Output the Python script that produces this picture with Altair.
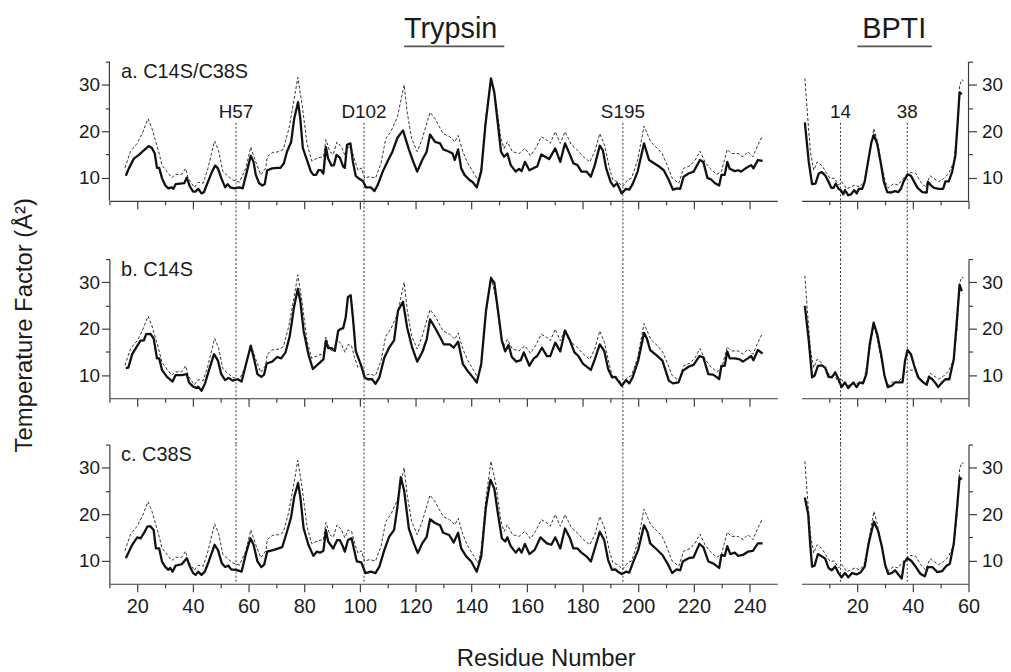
import altair as alt
import pandas as pd

# ---------------- data ----------------
# Trypsin, wild-type reference (dashed, identical in all three panels)
tryp_wt_res = [15.6, 17.6, 20, 21.8, 23.9, 25.3, 26.5, 27.7, 28.9, 30.7, 32.4, 33.8, 36, 37.4, 38.3, 40.5, 41.9, 43.7,
               45.4, 47.8, 49.2, 50.8, 52.5, 54.3, 56.7, 59, 60.8, 62.6, 64.4, 66.2, 66.7, 68.5, 70.9, 72.5, 74.5, 76.3,
               77.7, 79.2, 81, 82.7, 85.1, 86.9, 87.8, 89.2, 90.4, 91.8, 93.4, 94.6, 95.8, 97, 98.1, 99.3, 100.5, 101.7,
               103.5, 105.6, 107.6, 109.3, 111.1, 113.5, 115.9, 117, 118.6, 120.6, 122.4, 125.2, 127, 129.9, 132.3,
               134.1, 135.3, 137, 138.8, 140.6, 142.4, 143.6, 145.3, 147.1, 148.9, 150.7, 151.8, 153, 154.8, 157.2,
               159.3, 161.3, 163.1, 165.2, 167.2, 168.4, 170.2, 172, 173.7, 176.1, 177.9, 180.3, 182.6, 184.4, 186.2,
               187.9, 189.7, 190.9, 192.7, 194.4, 196.2, 197.6, 199.8, 202.1, 204.5, 206.9, 208.6, 210.4, 212.2, 214.6,
               216.3, 218.7, 220.5, 222.2, 224, 225.8, 228.2, 229.9, 232, 233.5, 235.9, 237.7, 239.4, 241.2, 243, 244.7]
tryp_wt_b = [12.1, 15.7, 17.4, 19.5, 22.7, 20.6, 18.1, 15.6, 12.7, 11.3, 10, 10.7, 10.7, 12, 9.9, 7.9, 9, 8.8,
             12, 17.9, 15.9, 11.3, 10.4, 9.5, 9, 12, 16.6, 13.4, 10.6, 12.1, 14.5, 15.4, 15.6, 16.1, 20.6, 26.6,
             31.6, 25.9, 17.4, 13.6, 14.3, 14.5, 18.2, 15.6, 15, 17.7, 16.6, 14.9, 16.6, 16.3, 13.8, 11.6, 12.1, 9.9,
             10.2, 9.9, 13.1, 18.4, 19.9, 23.1, 30, 24.1, 18.4, 15.6, 18.4, 24.1, 22.7, 19.5, 18.8,
             17.7, 19.1, 15.6, 13.1, 11.3, 9.5, 12, 23.4, 31.4, 26.3, 18.4, 16.3, 17.7, 15.6, 15.2,
             16.3, 14.7, 16.3, 18.8, 18.1, 17.4, 19.9, 17.4, 19.9, 17, 16.1, 14.5, 13.4, 15.6, 19.5,
             17, 12, 9.5, 9.1, 8.1, 9.5, 9.9, 13.8, 21.1, 17.7, 16.3, 15.2, 12.7, 9.9, 8.8,
             12, 12.6, 13.8, 15.7, 13.4, 12, 10.7, 11.3, 16.1, 15.2, 15.2, 14.5, 15.6, 14.5, 17, 19.1]

# a. C14S/C38S
tryp_a_res = [15.9, 17, 18.8, 20.6, 22.4, 24.1, 25.3, 26.3, 27.1, 27.9, 28.9, 30, 31.2, 32.4, 33, 33.8, 35.4, 36.9,
              37.8, 38.9, 40.1, 41, 41.9, 43.1, 44, 45.4, 46.9, 48, 49, 50.2, 51.6, 52.5, 53.5, 54.9, 56.7, 57.9,
              59.4, 60.8, 61.8, 62.6, 63.8, 65, 65.8, 66.7, 68.5, 70.3, 71.5, 72.7, 73.8, 75.3, 76.4, 77.8, 78.6,
              79.5, 81, 82.4, 83.3, 84.3, 85.1, 86, 86.9, 87.8, 88.6, 89.8, 90.7, 91.6, 92.8, 94, 94.6, 95.4, 96.6,
              97.5, 98.5, 99.9, 101.1, 102.2, 104, 105.2, 106.4, 108.2, 110, 111.7, 113.5, 115.5, 116.4, 117.6, 119.4,
              120.6, 122.4,
              124, 125.2, 127, 128.8, 129.9, 131.7, 133.3, 134.1, 135.3, 136.4, 137.6, 139.4, 140.6, 142, 143.6,
              145.1, 147.1, 148.3, 149.5, 150.7, 151.8, 153, 154.2, 156, 157.2, 158.1, 159.3, 160.9, 162.5, 163.7,
              165.2, 166.6, 168, 170.2, 172, 173.7, 175.5, 176.7, 178.2, 179.6, 181.4, 183, 184.4, 186.2, 187.3,
              188.5, 190.1, 191.2, 192.4, 194.1, 195.6, 196.8, 198, 199.8, 202.1, 203.9, 205.7, 207.5, 209.2, 211,
              212.5, 214, 215.1, 216.3, 218.1, 219.9, 222.2, 223.4, 224.9, 226, 227.6, 229.1, 229.9, 231.1, 232,
              232.9, 234.7, 235.9, 237, 238.8, 240.6, 241.4, 243, 244.7]
tryp_a_b = [10.4, 12, 14.1, 14.9, 15.9, 16.8, 16.4, 15.2, 12.1, 12.1, 9.9, 8.4, 7.7, 7.9, 7.6, 8.6, 8.7, 8.8,
            10, 8.1, 7, 7, 7.6, 6.6, 6.9, 9.1, 11.3, 12.6, 12, 9.9, 7.9, 8.6, 7.9, 7.7, 7.9, 7.7,
            11.3, 14.7, 13.4, 10.6, 8.8, 8.3, 8.6, 11.6, 12, 12.1, 12.1, 13.1, 15.6, 17.7, 22.7, 26.3, 22.7,
            16.4, 13.8, 11.3, 10.6, 10.6, 11.6, 11.6, 10.9, 16.6, 14.1, 12.6, 12.7, 14.9, 14.3, 12.4, 12.1, 17.1, 17.4,
            13.4, 10.4, 9.7, 9.3, 7.9, 7.9, 7.1, 8.4, 11.3, 13.6, 15.6, 18.6, 20.2, 18.4, 16.1, 13.1,
            11.3, 13.8,
            15.6, 19.3, 17.7, 17.4, 16.1, 15.7, 15.2, 13.8, 16.1, 12, 10.6, 9.5, 9, 7.9, 11.3,
            21.3, 31.4, 28.4, 22, 15.6, 14.5, 15.2, 12.7, 11.3, 11.9, 11.4, 13.4, 11.6, 12.1, 12.4,
            15, 14.5, 14, 16.3, 13.4, 17.4, 14.9, 13.1, 12.7, 11.3, 11.3, 10.2, 12.7, 16.9, 15.9,
            12, 9.1, 8.1, 8.8, 6.6, 7.6, 7.4, 8.6, 11.3, 17.4, 13.8, 13.1, 12.4, 11.6, 9.5,
            7.4, 7.7, 7.6, 10.2, 10.9, 11.3, 13.8, 13.4, 9.9, 9.7, 8.8, 8.3, 10.6, 10.6, 13.4,
            11.9, 11.4, 11.6, 11.3, 12.1, 12.7, 12, 13.8, 13.6]

# b. C14S
tryp_b_res = [15.9, 16.8, 18.2, 20, 21.2, 22.4, 23.2, 24.7, 25.9, 27.1, 27.9, 28.9, 30.7, 32.7, 33.8, 36, 37.8, 38.6,
              40.1, 41.3, 41.9, 43.1, 44.3, 45.7, 47.6, 49, 50.2, 51.6, 52.8, 54.3, 56.1, 57.5, 59.1, 60.8, 62, 63.2,
              64.6, 65.6, 66.5, 68.5, 70.3, 71.7, 73.3, 74.8, 76.3, 77.7, 78.6, 79.8, 81.5, 83.1, 85.1, 86.9, 87.8,
              88.6, 89.8, 91, 92.2, 93, 94, 94.9, 95.7, 96.7, 97.5, 98.5, 99.3, 100.5, 101.7, 102.8, 104.4, 105.6,
              107, 108.8, 110.5, 112.3, 113.7, 115.5, 117, 118.8, 120.6, 122.4,
              124, 125.2, 127, 128.8, 130.2, 132.3, 133.7, 135.3, 137, 138.8, 140.6, 142, 143.6, 145.3, 147.1, 148.3,
              149.5, 151, 152.2, 153.4, 154.6, 156.2, 157.8, 158.9, 160.9, 162.5, 163.7, 165.4, 167.2, 168.4, 170.2,
              172, 173.7, 175.5, 177.1, 178.5, 180.2, 183, 184.4, 186.2, 187.8, 189.2, 190.6, 191.8, 192.7, 194.1,
              195.6, 196.8, 198, 200, 202.1, 203.1, 204.3, 206.3, 208.7, 211, 212.5, 214.5, 216, 218.1, 219.9, 222,
              223.4, 225.2, 226.9, 228.1, 229.1, 229.9, 231.1, 232, 232.9, 234.7, 236.5, 237.6, 239.4, 240.6, 241.4,
              243, 244.7]
tryp_b_b = [11.5, 11.6, 14.5, 16.3, 17.4, 17.5, 18.8, 18.9, 17.9, 13.6, 13.6, 11.1, 9.6, 8.6, 10, 10, 10.2, 8.4,
            7.5, 7.2, 7.5, 6.6, 8.1, 10.9, 14.5, 13.1, 10.2, 8.9, 9.4, 8.8, 9.1, 8.6, 12.4, 16.3, 13.4, 10.2,
            9.6, 10.1, 12.5, 12.9, 13.9, 13.6, 14.9, 18.4, 24.5, 28.6, 25.9, 19.5, 14.5, 11.3, 12.4, 13.4, 17.4,
            15.8, 15.8, 15.2, 19.5, 19.9, 20.1, 22.4, 26.8, 27.2, 22.4, 15.2, 13.9, 12, 9.5, 9.1, 9.1, 8.1,
            9.5, 13.8, 15.9, 17.5, 23.9, 25.8, 20.2, 15.9, 12.9, 14.9,
            17.7, 22, 20.2, 18.2, 16.6, 16.6, 15.9, 17.2, 12.4, 10.8, 9.5, 8.4, 12.4, 23.8, 30.9, 29.9,
            24.5, 17.4, 15.1, 16.5, 13.9, 12.9, 13.2, 14.9, 12, 13.6, 14.1, 15.9, 14.1, 14.1, 17,
            15.1, 19.6, 17.4, 14.9, 14.1, 12.4, 11.1, 13.4, 16.6, 15.2, 11.3, 9.5, 9.6, 8.8, 7.7,
            8.9, 8.2, 9.5, 13.1, 19.1, 17.9, 15.4, 14.4, 13.1, 8.8, 8.2, 8.4, 10.9, 11.8, 12.2, 14.1,
            13.8, 10.2, 10.1, 9.6, 9.1, 12, 12, 15.1, 13.6, 13.6, 13.4, 12.9, 13.6, 14.1, 13.2,
            15.4, 14.6]

# c. C38S
tryp_c_res = [15.9, 17, 18.2, 20, 21.2, 22.4, 23.6, 24.7, 25.9, 26.7, 27.9, 28.9, 30, 31.2, 31.8, 32.7, 33.8, 36,
              37.8, 38.9, 40.1, 41, 41.9, 43.1, 44.3, 45.7, 47.8, 49, 50.4, 51.6, 52.8, 53.7, 55.5, 57.5, 59.1, 60.7,
              61.8, 63.2, 64.6, 65.6, 66.7, 69.1, 72.1, 73.8, 75.3, 76.4, 77.8, 78.6, 79.8, 81.5, 83.3, 84.5, 85.7,
              86.9, 87.8, 88.6, 90.4, 91.8, 92.8, 94, 94.6, 95.7, 97, 98.1, 98.9, 100.5, 102, 104, 105.6, 107, 108.8,
              110.5, 112.3, 113.5, 114.7, 115.9, 117.6, 119.4, 120.8, 122.4,
              124, 125.2, 127, 128.8, 129.9, 132.1, 133.7, 135.3, 136.4, 138.2, 140, 142, 143.6, 145.3, 146.9, 148.3,
              149.5, 151, 152.2, 153, 154.2, 156, 157.2, 158.1, 159.3, 160.9, 162.8, 164.9, 167.2, 168.8, 170.2, 172,
              173.7, 175.5, 176.7, 178.2, 179.6, 181.4, 183, 184.4, 186.2, 187.8, 189.2, 190.6, 191.8, 192.7, 194.1,
              195.6, 196.8, 198, 200, 202.1, 203.3, 204.3, 206.3, 208.7, 210.5, 212.2, 213.8, 215.1, 216, 218.1,
              219.9, 222, 223.4, 225.2, 226.9, 229.1, 229.9, 231.1, 232, 233.1, 234.7, 235.9, 237.6, 239.4, 241.2,
              243, 244.7]
tryp_c_b = [10.5, 11.9, 13.4, 15, 14.8, 15.9, 17.3, 17.4, 16.6, 12.6, 12.6, 9.8, 8.7, 8, 8.4, 7.6, 8.9, 9.2,
            10.5, 8.7, 7.3, 6.9, 7.6, 6.9, 7.6, 9.8, 13.4, 12.3, 9.4, 8.6, 8.9, 8.1, 8, 7.6, 11.6, 14.8,
            13.4, 9.8, 8.6, 9.1, 11.9, 12.3, 12.9, 16.2, 19.4, 23.7, 26.7, 23.7, 16.9, 13.4, 11, 11.9, 11.7,
            12.1, 16.6, 14.1, 12.6, 14.4, 14.4, 12.9, 11.9, 14.4, 14.8, 11.9, 9.8, 9.6, 7.3, 7.6, 7.3, 8.7, 12.3,
            15.1, 16.6, 21.6, 28, 25.1, 16.9, 13.7, 11.6, 13.7,
            15.1, 18.9, 18.1, 17.6, 16, 15.5, 13.9, 16, 12.6, 10.9, 9.8, 7.6, 10.9, 21.6, 27.4, 25.5,
            20.5, 14.8, 14.1, 15, 13.1, 11.7, 12.6, 11.7, 13.6, 11.4, 12.3, 15, 13.7, 13.4, 15, 12.6,
            16.9, 14.8, 12.6, 12.6, 11.7, 10.9, 9.8, 12.6, 16.2, 14.4, 10.1, 8, 8.1, 7.6, 7.1,
            7.6, 7.4, 9.4, 12.3, 17.6, 16.2, 13.7, 12.6, 11.2, 9.4, 7.3, 8.1, 7.9, 9.8, 10.5,
            10.7, 13.6, 12.9, 9.8, 9.4, 8.4, 11.2, 11, 13.1, 11.4, 11.7, 11, 11.2, 11.9, 12.1,
            13.7, 13.7]

# BPTI, wild-type reference (dashed)
bpti_wt_res = [1.2, 2, 3.2, 4.4, 5.6, 7.3, 9.1, 10.3, 11.8, 13.3, 14.4, 16.2, 17.8, 19.2, 20.9, 22.5, 23.9, 25.1, 26,
               27.2, 28.6, 30.1, 31.2, 33.1, 34.6, 36, 37.5, 39.3, 41.1, 42.8, 44.6, 46.2, 47.6, 49.3, 51.1, 52.9,
               54.7, 55.9, 56.8, 57.6, 58.2]
bpti_wt_b = [31.4, 24.8, 15.5, 11.6, 13.4, 12.6, 10.9, 9.8, 9.9, 8.4, 9.1, 7.6, 8, 8.4, 8, 9.1, 13.4, 17.6, 20.6,
             18, 13.4, 9.1, 7.8, 8.7, 8.4, 9.4, 10.5, 11.1, 10.9, 9.1, 8, 10.4, 9.8, 9.1, 9.8, 10.9,
             13.4, 19.8, 29.8, 31.1, 30.9]
bpti_a_res = [1.2, 2.6, 3.8, 5, 6.2, 7.3, 8.5, 9.7, 10.7, 11.5, 12.3, 13.3, 14.1, 15, 15.6, 16.8, 17.8, 18.9, 19.8,
              20.6, 21.8, 22.7, 23.9, 25.1, 26, 27.2, 28.4, 29.6, 30.8, 32.2, 33.6, 34.8, 35.7, 36.7, 38.1, 39.3,
              40.5, 41.7, 43.4, 45, 45.4, 46.4, 47.6, 49.3, 50.9, 51.7, 52.9, 54.1, 55.3, 56.1, 56.8, 57.6]
bpti_a_b = [21.9, 13.4, 8.6, 8.7, 10.9, 11.2, 10.5, 9.1, 7.8, 7.8, 8.7, 7.6, 7.3, 6.4, 7.3, 6.2, 6.4, 7.3, 6.6,
            7.6, 7.6, 9.1, 13.4, 17.6, 19.2, 17.3, 13.4, 9.1, 6.9, 6.8, 7.1, 6.9, 7.6, 9.2, 10.7, 10.4,
            9.1, 7.8, 6.9, 6.8, 9.1, 8.4, 7.8, 7.6, 7.6, 9.2, 9.2, 11.2, 14.8, 21.9, 28.4, 28]
bpti_b_res = [1.2, 2.6, 3.8, 4.7, 5.9, 7.3, 8.5, 9.7, 10.9, 12.1, 13.3, 14.4, 15.6, 16.8, 18.6, 19.8, 20.9, 22.1,
              23.3, 24.5, 25.9, 27.2, 28.6, 29.8, 31, 32.4, 33.6, 35.1, 36.3, 37.2, 38.1, 39.3, 40.5, 41.9, 43.4, 45,
              45.8, 47, 48.2, 49.1, 50.5, 51.7, 53.1, 54.7, 55.9, 56.8, 57.6]
bpti_b_b = [24.9, 17.4, 9.5, 9.9, 12, 12.1, 11.6, 9.6, 9.5, 10.6, 9.1, 7.4, 8.4, 7.2, 8.4, 7.4, 8.4, 8.2,
            10.2, 16.6, 21.3, 18.8, 14.5, 9.9, 7.4, 7.7, 8.4, 8.4, 8.4, 13.1, 15.4, 14.5, 12, 9.5, 8.6, 7.9,
            9.6, 9.1, 8.2, 7.4, 8.4, 9.1, 9.1, 13.4, 22.4, 29.5, 28.1]
bpti_c_res = [1.2, 2.4, 3.2, 3.8, 4.7, 5.9, 7.3, 8.5, 9.7, 10.9, 12.1, 13.3, 14.4, 15.6, 16.8, 18.2, 19.8, 21.3,
              22.7, 24.1, 26, 27.5, 28.9, 30.1, 31.2, 32.4, 33.6, 34.8, 36, 36.9, 38.1, 39.5, 41.1, 42.8, 44.3, 45.4,
              47, 48.8, 50.5, 52.1, 53.3, 54.7, 55.9, 56.8, 57.6]
bpti_c_b = [23.6, 20, 12.9, 8.7, 8.9, 11.4, 10.9, 10.4, 8.4, 7.9, 8.7, 7.3, 6.4, 7.3, 6.4, 7.3, 7, 7.5,
            8.7, 13.6, 18.4, 16.4, 12.9, 8.9, 7.1, 7.3, 7.9, 7, 6.1, 9.6, 10.5, 9.9, 8.6, 7.1, 6.6, 8.6,
            8.6, 7.5, 7.7, 8.9, 9.3, 13.6, 21.4, 27.9, 27.5]

tryp_site_res = [55.5, 101.5, 194.5]
tryp_site_names = ["H57", "D102", "S195"]
bpti_site_res = [14, 38]
bpti_site_names = ["14", "38"]
panel_names = ["a. C14S/C38S", "b. C14S", "c. C38S"]
tryp_xticks = list(range(10, 250, 10))
bpti_xticks = list(range(10, 61, 10))
b_ticks = [10, 15, 20, 25, 30, 35]

# ---------------- layout / style ----------------
FONT = "Liberation Sans"
INK = "#1b1b1b"
AX = "#3c3c3c"
W_T, W_B, H = 672, 168, 140
Y_LO, Y_HI = 5, 35
PX = H / (Y_HI - Y_LO)
GAP_AB, GAP_BC, GAP_COL = 58.4, 46.6, 24.3
EXTRA = GAP_AB - GAP_BC
SITE_TOP = 21.8
SITE_LABEL_Y = 24.1
PANEL_LABEL_X, PANEL_LABEL_Y = 14.2, 32.7
TITLE_Y, ULINE_Y = 40.2, 38.3

solid_rows = {
    "t": [(tryp_a_res, tryp_a_b), (tryp_b_res, tryp_b_b), (tryp_c_res, tryp_c_b)],
    "b": [(bpti_a_res, bpti_a_b), (bpti_b_res, bpti_b_b), (bpti_c_res, bpti_c_b)],
}
wt = {"t": (tryp_wt_res, tryp_wt_b), "b": (bpti_wt_res, bpti_wt_b)}


def line_df(xs, ys):
    return pd.DataFrame({"res": xs, "bf": ys, "i": list(range(len(xs)))})


def panel(kind, row):
    t = kind == "t"
    xdom = [10, 250] if t else [0, 60]
    w = W_T if t else W_B
    h = H + EXTRA if row == 0 else H
    ylo = Y_LO - (EXTRA / PX if row == 0 else 0)
    xs = alt.Scale(domain=xdom, nice=False, zero=False)
    ys = alt.Scale(domain=[ylo, Y_HI], nice=False, zero=False)

    xkw = dict(values=tryp_xticks if t else bpti_xticks, labels=(row == 2),
               labelExpr="datum.value % 20 === 0 ? datum.label : ''",
               tickSize={"condition": {"test": "datum.value % 20 === 0", "value": 8}, "value": 4},
               labelPadding=5, labelFlush=False, labelOverlap=False, labelFontSize=20,
               offset=-EXTRA if row == 0 else 0, title=None)
    if t and row == 2:
        xkw.update(title="Residue Number", titleX=439, titleY=82, titleBaseline="alphabetic",
                   titleAlign="center", titleFontSize=24)
    xaxis = alt.Axis(**xkw)

    ykw = dict(orient="left" if t else "right", values=b_ticks,
               labelExpr="datum.value % 10 === 0 ? datum.label : ''",
               tickSize={"condition": {"test": "datum.value % 10 === 0", "value": 8}, "value": 4},
               labelPadding=2 if t else 5, labelFlush=False, labelOverlap=False, labelFontSize=19,
               domain=(row != 0), title=None)
    if t and row == 1:
        ykw.update(title="Temperature Factor (Å²)", titleX=-78, titleY=66, titleAngle=270,
                   titleBaseline="alphabetic", titleAlign="center", titleFontSize=24)
    yaxis = alt.Axis(**ykw)

    def X(f):
        return alt.X(f"{f}:Q", scale=xs, axis=xaxis)

    def Y(f):
        return alt.Y(f"{f}:Q", scale=ys, axis=yaxis)

    layers = []
    # dotted site markers, running through the gaps between rows
    sites = tryp_site_res if t else bpti_site_res
    top = SITE_TOP if row == 0 else Y_HI
    bot = Y_LO - (GAP_AB / PX if row == 0 else GAP_BC / PX if row == 1 else 0)
    sdf = pd.DataFrame({"x": sites, "y1": [top] * len(sites), "y2": [bot] * len(sites)})
    layers.append(alt.Chart(sdf).mark_rule(strokeDash=[2, 2], strokeWidth=1, color="#333", clip=False)
                  .encode(x=X("x"), y=Y("y1"), y2=alt.Y2("y2:Q")))

    # wild-type (dashed) and mutant (solid)
    wx, wy = wt[kind]
    layers.append(alt.Chart(line_df(wx, wy)).mark_line(strokeDash=[3, 2], strokeWidth=1, color="#333")
                  .encode(x=X("res"), y=Y("bf"), order="i:Q"))
    sx, sy = solid_rows[kind][row]
    layers.append(alt.Chart(line_df(sx, sy)).mark_line(strokeWidth=2.3, color="#111", strokeJoin="round")
                  .encode(x=X("res"), y=Y("bf"), order="i:Q"))

    if t:
        pdf = pd.DataFrame({"x": [PANEL_LABEL_X], "y": [PANEL_LABEL_Y], "t": [panel_names[row]]})
        layers.append(alt.Chart(pdf).mark_text(align="left", baseline="middle", font=FONT, fontSize=20,
                                               color=INK)
                      .encode(x=X("x"), y=Y("y"), text="t:N"))

    if row == 0:
        names = tryp_site_names if t else bpti_site_names
        ldf = pd.DataFrame({"x": sites, "y": [SITE_LABEL_Y] * len(sites), "t": names})
        layers.append(alt.Chart(ldf).mark_text(align="center", baseline="middle", font=FONT, fontSize=19,
                                               color=INK)
                      .encode(x=X("x"), y=Y("y"), text="t:N"))
        # panel-group title with underline
        tx, ux1, ux2, ttl = (132.6, 115.9, 151.9, "Trypsin") if t else (33.3, 20.1, 46.8, "BPTI")
        tdf = pd.DataFrame({"x": [tx], "y": [TITLE_Y], "t": [ttl]})
        layers.append(alt.Chart(tdf).mark_text(align="center", baseline="alphabetic", font=FONT, fontSize=29,
                                               color=INK, clip=False)
                      .encode(x=X("x"), y=Y("y"), text="t:N"))
        udf = pd.DataFrame({"x1": [ux1], "x2": [ux2], "y": [ULINE_Y]})
        layers.append(alt.Chart(udf).mark_rule(strokeWidth=2, color="#555", clip=False)
                      .encode(x=X("x1"), x2=alt.X2("x2:Q"), y=Y("y")))
        # y axis line limited to the 5-35 range
        ddf = pd.DataFrame({"x": [xdom[0] if t else xdom[1]], "y1": [Y_LO], "y2": [Y_HI]})
        layers.append(alt.Chart(ddf).mark_rule(strokeWidth=1.2, color=AX)
                      .encode(x=X("x"), y=Y("y1"), y2=alt.Y2("y2:Q")))

    return alt.layer(*layers).properties(width=w, height=h)


charts = [panel(k, r) for r in range(3) for k in ("t", "b")]
chart = alt.concat(*charts, columns=2, spacing={"row": GAP_BC, "column": GAP_COL},
                   bounds="flush", align="each").properties(
    padding={"left": 5, "top": 4, "right": 0, "bottom": 0}, background="white"
).configure_view(stroke=None).configure_axis(
    grid=False, domainColor=AX, tickColor=AX, domainWidth=1.2, tickWidth=1.2,
    labelFont=FONT, labelColor=INK, titleFont=FONT, titleColor=INK, titleFontWeight="normal"
)

chart.save("out.html", embed_options={"renderer": "svg", "actions": False})
